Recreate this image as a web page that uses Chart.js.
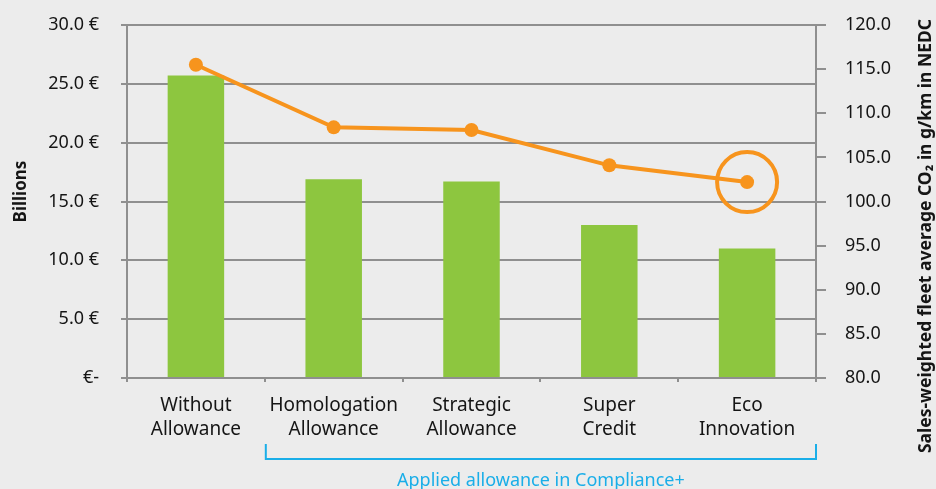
<!DOCTYPE html>
<html>
<head>
<meta charset="utf-8">
<script src="https://cdn.jsdelivr.net/npm/chart.js@4.4.0/dist/chart.umd.min.js"></script>
<style>
  html, body { margin: 0; padding: 0; background: #ececec; }
  #wrap { width: 936px; height: 489px; }
</style>
</head>
<body>
<div id="wrap"><canvas id="c"></canvas></div>
<script>
// data
const categories = [['Without', 'Allowance'], ['Homologation', 'Allowance'], ['Strategic', 'Allowance'], ['Super', 'Credit'], ['Eco', 'Innovation']];
const costBillions = [25.7, 16.9, 16.7, 13.0, 11.0];
const co2Values = [115.5, 108.4, 108.1, 104.1, 102.2];
const highlightIndex = 4;
const leftTitle = 'Billions';
const rightTitle = 'Sales-weighted fleet average CO\u2082 in g/km in NEDC';
const bracketLabel = 'Applied allowance in Compliance+';

const gridGrey = '#8f8f8f';
const textCol = '#151515';
const blue = '#1aaee8';
const fontFam = '"Noto Sans", sans-serif';

// titles and bracket drawn by hand
const extrasPlugin = {
    id: 'extras',
    afterDraw(chart) {
        const ctx = chart.ctx;
        const x = chart.scales.x;
        const area = chart.chartArea;
        ctx.save();
        ctx.fillStyle = textCol;
        ctx.font = 'bold 17px ' + fontFam;
        ctx.textAlign = 'center';
        ctx.textBaseline = 'middle';
        // left title
        ctx.save();
        ctx.translate(21, (area.top + area.bottom) / 2 - 10);
        ctx.rotate(-Math.PI / 2);
        ctx.fillText(leftTitle, 0, 0);
        ctx.restore();
        // right title, reads bottom to top
        ctx.save();
        ctx.font = 'bold 17.5px ' + fontFam;
        ctx.translate(926, 236);
        ctx.rotate(-Math.PI / 2);
        ctx.fillText(rightTitle, 0, 0);
        ctx.restore();

        // bracket under the allowance categories
        const half = (x.getPixelForValue(1) - x.getPixelForValue(0)) / 2;
        const x0 = x.getPixelForValue(1) - half + 1;
        const x1 = x.getPixelForValue(categories.length - 1) + half;
        const yb = 459;
        ctx.strokeStyle = blue;
        ctx.lineWidth = 2;
        ctx.beginPath();
        ctx.moveTo(x0, yb - 15);
        ctx.lineTo(x0, yb);
        ctx.lineTo(x1, yb);
        ctx.lineTo(x1, yb - 15);
        ctx.stroke();
        ctx.fillStyle = blue;
        ctx.font = '18px ' + fontFam;
        ctx.fillText(bracketLabel, (x0 + x1) / 2, 481);
        ctx.restore();
    }
};

new Chart(document.getElementById('c'), {
    type: 'bar',
    data: {
        labels: categories,
        datasets: [
            {
                type: 'line',
                data: co2Values,
                yAxisID: 'y1',
                borderColor: '#f7941d',
                backgroundColor: '#f7941d',
                borderWidth: 4,
                pointRadius: 7,
                pointHoverRadius: 7,
                pointBackgroundColor: '#f7941d',
                pointBorderWidth: 0,
                tension: 0,
                order: 1
            },
            {
                type: 'line',
                data: co2Values.map((v, i) => i === highlightIndex ? v : null),
                yAxisID: 'y1',
                showLine: false,
                pointRadius: 30,
                pointHoverRadius: 30,
                pointBackgroundColor: 'transparent',
                pointBorderColor: '#f7941d',
                pointBorderWidth: 4,
                order: 0
            },
            {
                type: 'bar',
                data: costBillions,
                yAxisID: 'y',
                backgroundColor: '#8dc63f',
                barPercentage: 0.82,
                categoryPercentage: 0.5,
                order: 2
            }
        ]
    },
    options: {
        responsive: true,
        maintainAspectRatio: false,
        animation: false,
        // big highlight ring would otherwise add padding on top
        layout: { autoPadding: false, padding: { top: 25, left: 0, right: 0, bottom: 0 } },
        plugins: {
            legend: { display: false },
            tooltip: { enabled: false }
        },
        scales: {
            x: {
                offset: true,
                afterFit(s) { s.height = 111; },
                grid: {
                    offset: true,
                    drawOnChartArea: false,
                    color: gridGrey,
                    lineWidth: 2,
                    tickLength: 4
                },
                border: { color: gridGrey, width: 2 },
                ticks: {
                    color: textCol,
                    padding: 12,
                    maxRotation: 0,
                    font: { family: fontFam, size: 19, lineHeight: 1.25 }
                }
            },
            y: {
                position: 'left',
                min: 0,
                max: 30,
                afterFit(s) { s.width = 127; },
                grid: { color: gridGrey, lineWidth: 2, tickLength: 6 },
                border: { color: gridGrey, width: 2 },
                ticks: {
                    stepSize: 5,
                    color: textCol,
                    padding: 22,
                    // small line height keeps the scale from pushing the plot down
                    font: { family: fontFam, size: 18, lineHeight: 0.2 },
                    callback: v => v === 0 ? '\u20ac-' : v.toFixed(1) + ' \u20ac'
                }
            },
            y1: {
                position: 'right',
                min: 80,
                max: 120,
                afterFit(s) { s.width = 120; },
                grid: { drawOnChartArea: false, color: gridGrey, lineWidth: 2, tickLength: 10 },
                border: { color: gridGrey, width: 2 },
                ticks: {
                    stepSize: 5,
                    color: textCol,
                    padding: 19,
                    font: { family: fontFam, size: 18, lineHeight: 0.2 },
                    callback: v => v.toFixed(1)
                }
            }
        }
    },
    plugins: [extrasPlugin]
});
</script>
</body>
</html>
